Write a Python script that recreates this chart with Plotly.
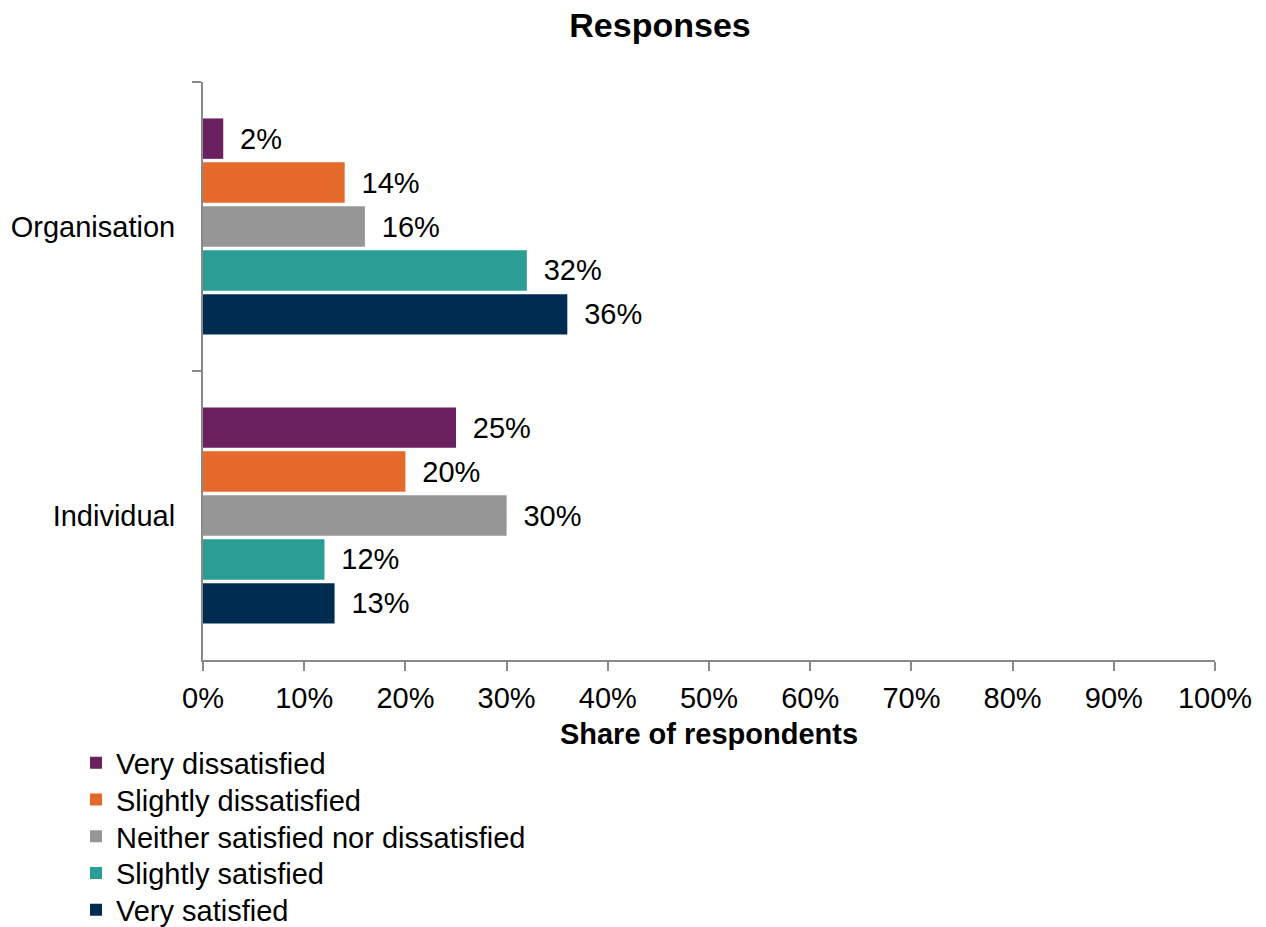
import plotly.graph_objects as go

categories = ["Organisation", "Individual"]
series_names = [
    "Very dissatisfied",
    "Slightly dissatisfied",
    "Neither satisfied nor dissatisfied",
    "Slightly satisfied",
    "Very satisfied",
]
# share of respondents (%) per category, one list per response
very_dissatisfied = [2, 25]
slightly_dissatisfied = [14, 20]
neither = [16, 30]
slightly_satisfied = [32, 12]
very_satisfied = [36, 13]
x_ticks = [0, 10, 20, 30, 40, 50, 60, 70, 80, 90, 100]

series_values = [very_dissatisfied, slightly_dissatisfied, neither,
                 slightly_satisfied, very_satisfied]
colors = ["#6b2160", "#e5692b", "#969696", "#2a9d94", "#002c52"]

FONT = "Arial, Liberation Sans, sans-serif"
AXIS_GREY = "#898989"
FS = 29

# plot area in pixels
L, R, T, B = 203, 51, 82, 267
W, H = 1266, 927
PLOT_W, PLOT_H = W - L - R, H - T - B

fig = go.Figure()
legend_ids = ["legend"] + [f"legend{i}" for i in range(2, len(series_names) + 1)]
for name, vals, col, lid in zip(series_names, series_values, colors, legend_ids):
    fig.add_trace(go.Bar(
        y=categories,
        x=vals,
        name=name,
        orientation="h",
        marker=dict(color=col, line=dict(width=0)),
        text=[f"\u00a0\u2009{v}%" for v in vals],
        textposition="outside",
        textfont=dict(family=FONT, size=FS, color="#000000"),
        cliponaxis=False,
        hoverinfo="skip",
        legend=lid,
    ))

# one legend box per entry so the rows keep an even, tight spacing
legend_layout = {}
first_row_y = 763
row_step = 36.7
for i, lid in enumerate(legend_ids):
    cy = first_row_y + i * row_step
    legend_layout[lid] = dict(
        x=(76 - L) / PLOT_W, xanchor="left",
        y=(T + PLOT_H - cy) / PLOT_H, yanchor="middle",
        font=dict(family=FONT, size=FS, color="#000000"),
        itemwidth=30,
        bgcolor="rgba(0,0,0,0)",
    )

fig.update_layout(
    width=W,
    height=H,
    margin=dict(l=L, r=R, t=T, b=B, autoexpand=False),
    paper_bgcolor="white",
    plot_bgcolor="white",
    barmode="group",
    bargap=0.24,
    bargroupgap=0.08,
    font=dict(family=FONT, size=FS, color="#000000"),
    title=dict(
        text="<b>Responses</b>",
        x=660 / W, xref="container", xanchor="center",
        y=1 - 25 / H, yref="container", yanchor="middle",
        font=dict(family=FONT, size=34, color="#000000"),
    ),
    showlegend=True,
    uniformtext=dict(minsize=FS, mode="show"),
    **legend_layout,
)

fig.update_xaxes(
    range=[0, 100],
    tickvals=x_ticks,
    ticktext=[f"{t}%" for t in x_ticks],
    showgrid=False,
    zeroline=False,
    showline=True,
    linecolor=AXIS_GREY,
    linewidth=2,
    ticks="outside",
    ticklen=9,
    tickwidth=2,
    tickcolor=AXIS_GREY,
    tickfont=dict(family=FONT, size=FS, color="#000000"),
    ticklabelstandoff=2,
    title=dict(text="<b>Share of respondents</b>", standoff=11,
               font=dict(family=FONT, size=FS, color="#000000")),
    fixedrange=True,
)

fig.update_yaxes(
    autorange="reversed",
    categoryorder="array",
    categoryarray=categories,
    showgrid=False,
    zeroline=False,
    showline=True,
    linecolor=AXIS_GREY,
    linewidth=2,
    ticks="outside",
    tickson="boundaries",
    ticklen=9,
    tickwidth=2,
    tickcolor=AXIS_GREY,
    tickfont=dict(family=FONT, size=FS, color="#000000"),
    ticklabelstandoff=20,
    fixedrange=True,
)

fig.write_html("out.html")
